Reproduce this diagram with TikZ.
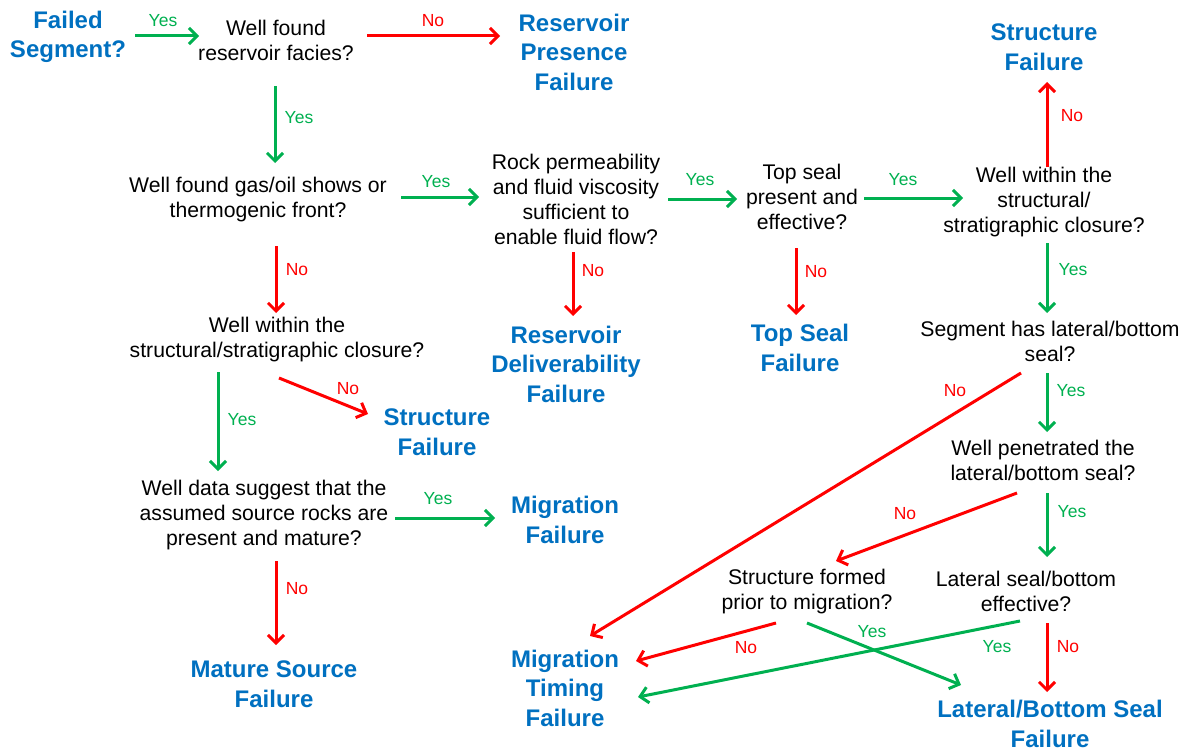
\documentclass[tikz,border=0pt]{standalone}
\usepackage{fontspec}
\setmainfont{Liberation Sans}
\usetikzlibrary{arrows.meta,calc}
\definecolor{failblue}{RGB}{0,112,192}
\definecolor{yesgreen}{RGB}{0,176,80}
\definecolor{nored}{RGB}{255,0,0}
\tikzset{
  question/.style={align=center,inner sep=0pt,text=black,
    font=\fontsize{21.2}{25}\selectfont},
  outcome/.style={align=center,inner sep=0pt,text=failblue,
    font=\fontsize{24}{29.5}\selectfont\bfseries},
  flow/.style={line width=3pt,-{Straight Barb[length=8pt,width=16pt]}},
  yesarrow/.style={flow,draw=yesgreen},
  noarrow/.style={flow,draw=nored},
  yeslbl/.style={inner sep=0pt,text=yesgreen,font=\fontsize{17.5}{19}\selectfont},
  nolbl/.style={inner sep=0pt,text=nored,font=\fontsize{17.5}{19}\selectfont},
}
\begin{document}
\begin{tikzpicture}[x=1pt,y=-1pt]
\useasboundingbox (0,0) rectangle (1184,752);

% decision questions
\node[question] (wf)   at (276,40)   {Well found\\reservoir facies?};
\node[question] (gas)  at (258,200)  {Well found gas/oil shows or\\thermogenic front?};
\node[question] (rock) at (576,199)  {Rock permeability\\and fluid viscosity\\sufficient to\\enable fluid flow?};
\node[question] (ts)   at (802,197)  {Top seal\\present and\\effective?};
\node[question] (wr)   at (1044,202) {Well within the\\structural/\\stratigraphic closure?};
\node[question] (wl)   at (277,340)  {Well within the\\structural/stratigraphic closure?};
\node[question] (seg)  at (1050,341) {Segment has lateral/bottom\\seal?};
\node[question] (wd)   at (264,515)  {Well data suggest that the\\assumed source rocks are\\present and mature?};
\node[question] (wp)   at (1043,460) {Well penetrated the\\lateral/bottom seal?};
\node[question] (sfm)  at (807,592)  {Structure formed\\prior to migration?};
\node[question] (lse)  at (1026,591) {Lateral seal/bottom\\effective?};

% start and failure outcomes
\node[outcome] (fs)  at (68,37)    {Failed\\Segment?};
\node[outcome] (rpf) at (574,52)   {Reservoir\\Presence\\Failure};
\node[outcome] (sf1) at (1044,47)  {Structure\\Failure};
\node[outcome] (rdf) at (566,364)  {Reservoir\\Deliverability\\Failure};
\node[outcome] (tsf) at (800,348)  {Top Seal\\Failure};
\node[outcome] (sf2) at (437,432)  {Structure\\Failure};
\node[outcome] (mf)  at (565,520)  {Migration\\Failure};
\node[outcome] (msf) at (274,684)  {Mature Source\\Failure};
\node[outcome] (mtf) at (565,688)  {Migration\\Timing\\Failure};
\node[outcome] (lbs) at (1050,724) {Lateral/Bottom Seal\\Failure};

% connectors
\draw[yesarrow] ($(fs)+(67,-1)$)    -- ($(wf)+(-77,-4)$);
\draw[noarrow]  ($(wf)+(91,-4)$)    -- ($(rpf)+(-74,-16)$);
\draw[yesarrow] ($(wf)+(-1,46)$)    -- ($(gas)+(17,-37)$);
\draw[yesarrow] ($(gas)+(143,-3)$)  -- ($(rock)+(-97,-2)$);
\draw[yesarrow] ($(rock)+(92,0)$)   -- ($(ts)+(-65,2)$);
\draw[yesarrow] ($(ts)+(62,1)$)     -- ($(wr)+(-81,-4)$);
\draw[noarrow]  ($(wr)+(3,-35)$)    -- ($(sf1)+(3,35)$);
\draw[yesarrow] ($(wr)+(3,41)$)     -- ($(seg)+(-3,-28)$);
\draw[noarrow]  ($(rock)+(-3,53)$)  -- ($(rdf)+(7,-48)$);
\draw[noarrow]  ($(ts)+(-6,51)$)    -- ($(tsf)+(-4,-33)$);
\draw[noarrow]  ($(gas)+(18,46)$)   -- ($(wl)+(-1,-27)$);
\draw[noarrow]  ($(wl)+(2,38)$)     -- ($(sf2)+(-69,-18)$);
\draw[yesarrow] ($(wl)+(-59,32)$)   -- ($(wd)+(-46,-44)$);
\draw[yesarrow] ($(wd)+(131,3)$)    -- ($(mf)+(-70,-2)$);
\draw[noarrow]  ($(wd)+(12,46)$)    -- ($(msf)+(2,-39)$);
\draw[noarrow]  ($(seg)+(-29,32)$)  -- ($(mtf)+(25,-52)$);
\draw[yesarrow] ($(seg)+(-3,32)$)   -- ($(wp)+(4,-28)$);
\draw[noarrow]  ($(wp)+(-26,33)$)   -- ($(sfm)+(29,-31)$);
\draw[yesarrow] ($(wp)+(4,33)$)     -- ($(lse)+(21,-34)$);
\draw[noarrow]  ($(sfm)+(-31,31)$)  -- ($(mtf)+(71,-27)$);
\draw[yesarrow] ($(sfm)+(0,31)$)    -- ($(lbs)+(-89,-39)$);
\draw[yesarrow] ($(lse)+(-6,30)$)   -- ($(mtf)+(73,9)$);
\draw[noarrow]  ($(lse)+(21,32)$)   -- ($(lbs)+(-3,-32)$);

% branch labels
\node[yeslbl] (y1)  at (163,21)  {Yes};
\node[nolbl]  (n1)  at (433,21)  {No};
\node[yeslbl] (y2)  at (299,118) {Yes};
\node[yeslbl] (y3)  at (436,182) {Yes};
\node[yeslbl] (y4)  at (700,180) {Yes};
\node[yeslbl] (y5)  at (903,180) {Yes};
\node[nolbl]  (n2)  at (1072,116) {No};
\node[yeslbl] (y6)  at (1073,270) {Yes};
\node[nolbl]  (n3)  at (593,271) {No};
\node[nolbl]  (n4)  at (816,272) {No};
\node[nolbl]  (n5)  at (297,270) {No};
\node[nolbl]  (n6)  at (348,389) {No};
\node[yeslbl] (y7)  at (242,420) {Yes};
\node[yeslbl] (y8)  at (438,499) {Yes};
\node[nolbl]  (n7)  at (297,589) {No};
\node[nolbl]  (n8)  at (955,391) {No};
\node[yeslbl] (y9)  at (1071,391) {Yes};
\node[nolbl]  (n9)  at (905,514) {No};
\node[yeslbl] (y10) at (1072,512) {Yes};
\node[nolbl]  (n10) at (746,648) {No};
\node[yeslbl] (y11) at (872,632) {Yes};
\node[yeslbl] (y12) at (997,647) {Yes};
\node[nolbl]  (n11) at (1068,647) {No};
\end{tikzpicture}
\end{document}
